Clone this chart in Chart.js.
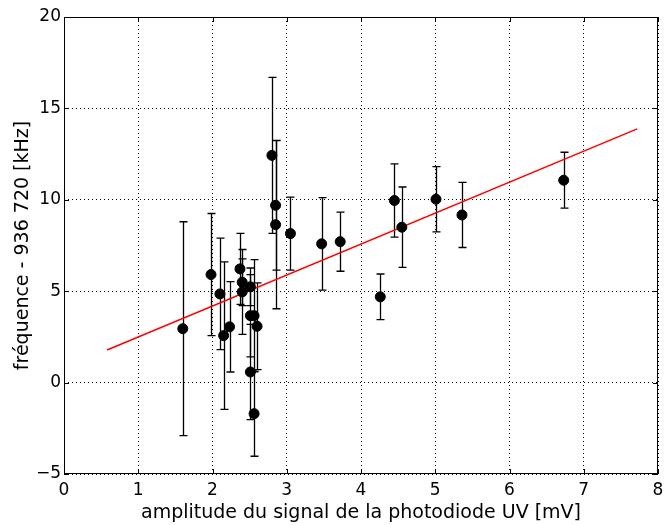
<!DOCTYPE html>
<html>
<head>
<meta charset="utf-8">
<script src="https://cdn.jsdelivr.net/npm/chart.js@4.4.0/dist/chart.umd.min.js"></script>
<style>
  html, body { margin: 0; padding: 0; background: #fff; }
</style>
</head>
<body>
<canvas id="myChart" width="664" height="525"></canvas>
<script>
// measured points: amplitude [mV], frequency offset [kHz], error [kHz]
const amplitude = [
  1.60, 1.98, 2.10, 2.15, 2.23, 2.37, 2.40, 2.40, 2.51, 2.51, 2.51, 2.56, 2.56,
  2.60, 2.80, 2.85, 2.85, 3.05, 3.47, 3.72, 4.26, 4.45, 4.55, 5.01, 5.36, 6.73
];
const frequency = [
  2.95, 5.91, 4.85, 2.57, 3.05, 6.22, 5.49, 4.96, 5.24, 3.66, 0.58, 3.66, -1.70,
  3.08, 12.43, 9.70, 8.64, 8.15, 7.59, 7.71, 4.69, 9.96, 8.50, 10.03, 9.17, 11.07
];
const frequencyErr = [
  5.85, 3.34, 3.05, 4.03, 2.47, 1.94, 1.28, 2.32, 1.03, 2.25, 2.60, 3.07, 2.33,
  2.37, 4.27, 3.55, 4.60, 2.00, 2.53, 1.62, 1.25, 2.00, 2.20, 1.78, 1.78, 1.53
];

// linear fit, end points
const fitAmplitude = [0.58, 7.72];
const fitFrequency = [1.78, 13.88];

const xLabel = "amplitude du signal de la photodiode UV [mV]";
const yLabel = "fréquence - 936 720 [kHz]";

const FONT = "'DejaVu Sans', sans-serif";

// vertical error bars with caps, drawn under the points
const errorBarPlugin = {
  id: "errorBars",
  beforeDatasetsDraw(chart) {
    const { ctx, scales: { x, y } } = chart;
    ctx.save();
    ctx.strokeStyle = "#000";
    ctx.lineWidth = 1.3;
    for (let i = 0; i < amplitude.length; i++) {
      const px = Math.round(x.getPixelForValue(amplitude[i])) + 0.5;
      const top = y.getPixelForValue(frequency[i] + frequencyErr[i]);
      const bottom = y.getPixelForValue(frequency[i] - frequencyErr[i]);
      ctx.beginPath();
      ctx.moveTo(px, top);
      ctx.lineTo(px, bottom);
      ctx.moveTo(px - 4, top);
      ctx.lineTo(px + 4, top);
      ctx.moveTo(px - 4, bottom);
      ctx.lineTo(px + 4, bottom);
      ctx.stroke();
    }
    ctx.restore();
  },
};

// matplotlib-like box with inward ticks on all four sides
const framePlugin = {
  id: "frame",
  afterDraw(chart) {
    const { ctx, chartArea: a, scales: { x, y } } = chart;
    const len = 5;
    ctx.save();
    ctx.strokeStyle = "#000";
    ctx.lineWidth = 1;
    ctx.beginPath();
    x.ticks.forEach((t) => {
      const px = Math.round(x.getPixelForValue(t.value)) + 0.5;
      ctx.moveTo(px, a.bottom);
      ctx.lineTo(px, a.bottom - len);
      ctx.moveTo(px, a.top);
      ctx.lineTo(px, a.top + len);
    });
    y.ticks.forEach((t) => {
      const py = Math.round(y.getPixelForValue(t.value)) + 0.5;
      ctx.moveTo(a.left, py);
      ctx.lineTo(a.left + len, py);
      ctx.moveTo(a.right, py);
      ctx.lineTo(a.right - len, py);
    });
    ctx.stroke();
    ctx.strokeRect(a.left + 0.5, a.top + 0.5, a.right - a.left - 1, a.bottom - a.top - 1);
    ctx.restore();
  },
};

const points = amplitude.map((v, i) => ({ x: v, y: frequency[i] }));
const fitLine = fitAmplitude.map((v, i) => ({ x: v, y: fitFrequency[i] }));

new Chart(document.getElementById("myChart"), {
  type: "scatter",
  data: {
    datasets: [
      {
        data: points,
        backgroundColor: "#000",
        borderColor: "#000",
        pointRadius: 5,
        pointHoverRadius: 5,
      },
      {
        data: fitLine,
        showLine: true,
        borderColor: "#ff0000",
        borderWidth: 1.5,
        pointRadius: 0,
      },
    ],
  },
  options: {
    responsive: false,
    animation: false,
    layout: { padding: { top: 17, right: 6, left: 0, bottom: 0 } },
    plugins: { legend: { display: false }, tooltip: { enabled: false } },
    scales: {
      x: {
        type: "linear",
        min: 0,
        max: 8,
        afterFit(scale) {
          scale.height = 51;
          scale.paddingLeft = 0;
          scale.paddingRight = 0;
        },
        ticks: {
          stepSize: 1,
          padding: 6,
          color: "#000",
          font: { family: FONT, size: 17 },
          maxRotation: 0,
        },
        grid: { color: "#000", lineWidth: 1, drawTicks: false },
        border: { display: false, dash: [1, 3] },
        title: {
          display: true,
          text: xLabel,
          color: "#000",
          font: { family: FONT, size: 19 },
          padding: { top: 0, bottom: 1 },
        },
      },
      y: {
        type: "linear",
        min: -5,
        max: 20,
        afterFit(scale) {
          scale.width = 64;
          scale.paddingTop = 0;
          scale.paddingBottom = 0;
        },
        ticks: {
          stepSize: 5,
          padding: 3,
          color: "#000",
          font: { family: FONT, size: 17 },
          callback: (v) => String(v).replace("-", "\u2212"),
        },
        grid: { color: "#000", lineWidth: 1, drawTicks: false },
        border: { display: false, dash: [1, 3] },
        title: {
          display: true,
          text: yLabel,
          color: "#000",
          font: { family: FONT, size: 19 },
          padding: { top: 12, bottom: 0 },
        },
      },
    },
  },
  plugins: [errorBarPlugin, framePlugin],
});
</script>
</body>
</html>
